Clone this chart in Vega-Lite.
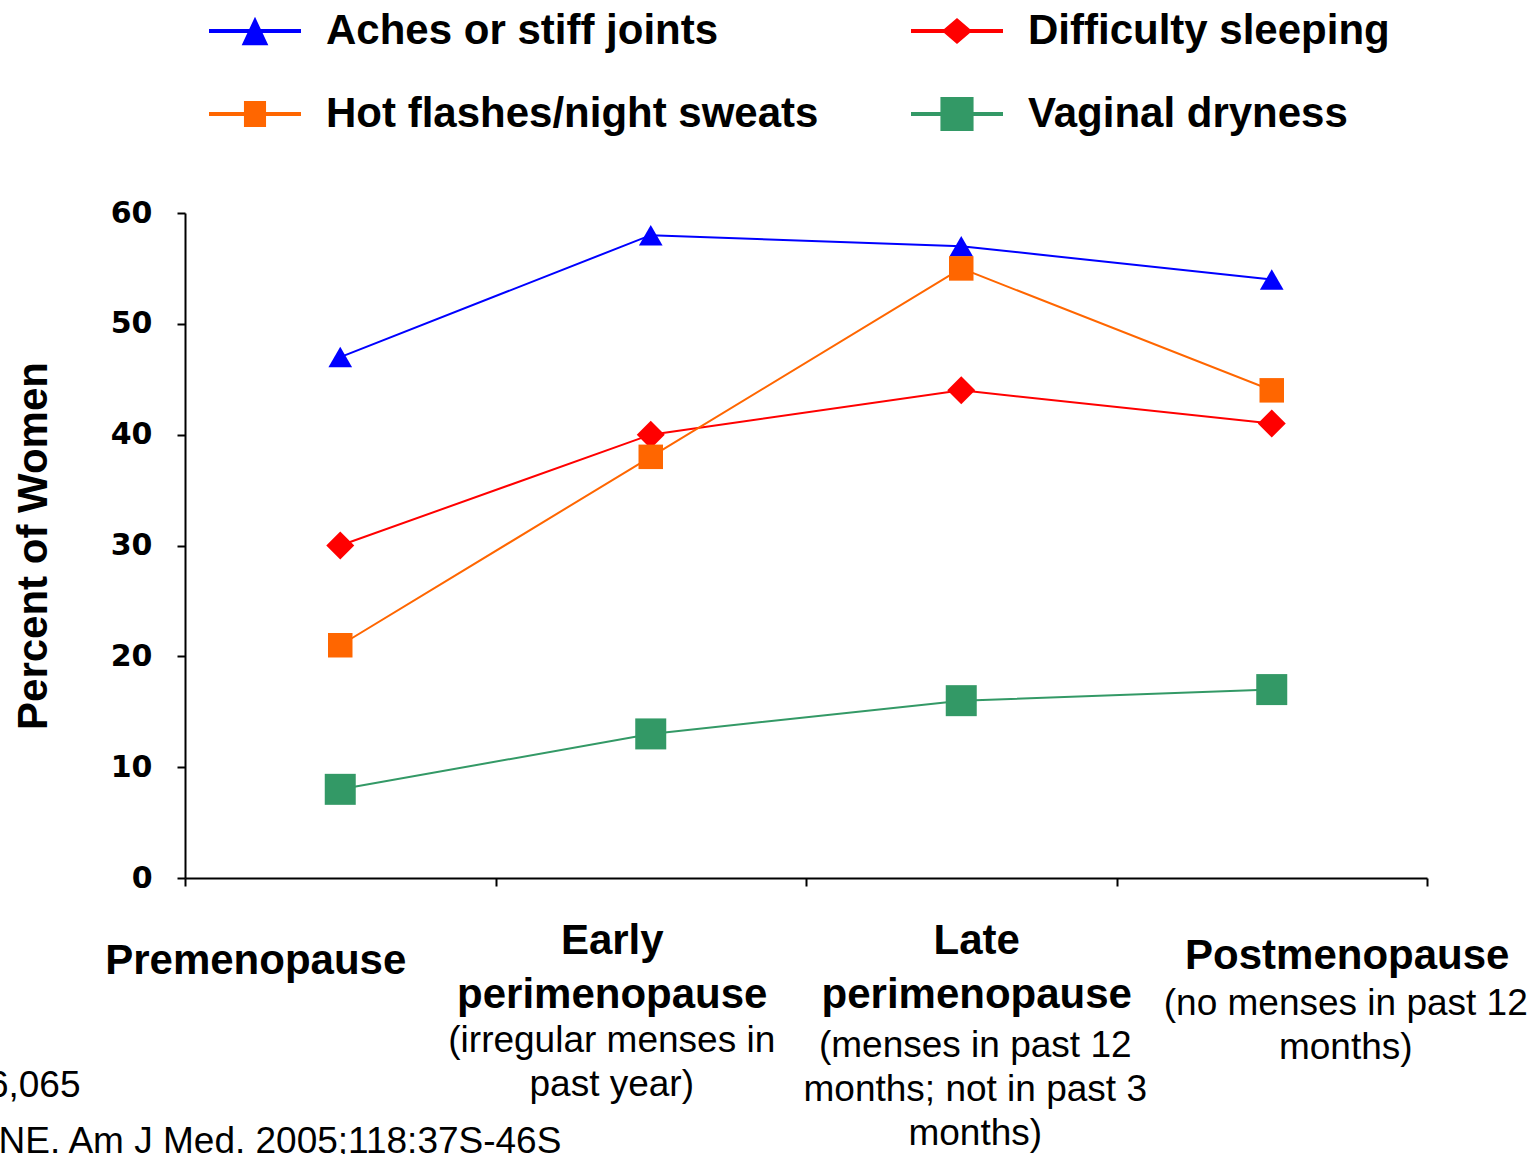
{
  "$schema": "https://vega.github.io/schema/vega-lite/v6.json",
  "width": 1242,
  "height": 665,
  "autosize": {"type": "none"},
  "padding": {"left": 185, "top": 213, "right": 109, "bottom": 276},
  "background": "white",
  "config": {"view": {"stroke": null}, "font": "Liberation Sans"},
  "title": {
    "text": ["N=16,065", "Avis NE. Am J Med. 2005;118:37S-46S"],
    "orient": "bottom",
    "anchor": "start",
    "frame": "group",
    "dx": -266,
    "offset": -83,
    "font": "Liberation Sans",
    "fontSize": 37,
    "fontWeight": "normal",
    "color": "black",
    "lineHeight": 56,
    "baseline": "top",
    "align": "left"
  },
  "data": {
    "values": [
      {"symptom": "Aches or stiff joints", "stage": "Premenopause", "percent": 47},
      {"symptom": "Aches or stiff joints", "stage": "Early perimenopause", "percent": 58},
      {"symptom": "Aches or stiff joints", "stage": "Late perimenopause", "percent": 57},
      {"symptom": "Aches or stiff joints", "stage": "Postmenopause", "percent": 54},
      {"symptom": "Difficulty sleeping", "stage": "Premenopause", "percent": 30},
      {"symptom": "Difficulty sleeping", "stage": "Early perimenopause", "percent": 40},
      {"symptom": "Difficulty sleeping", "stage": "Late perimenopause", "percent": 44},
      {"symptom": "Difficulty sleeping", "stage": "Postmenopause", "percent": 41},
      {"symptom": "Hot flashes/night sweats", "stage": "Premenopause", "percent": 21},
      {"symptom": "Hot flashes/night sweats", "stage": "Early perimenopause", "percent": 38},
      {"symptom": "Hot flashes/night sweats", "stage": "Late perimenopause", "percent": 55},
      {"symptom": "Hot flashes/night sweats", "stage": "Postmenopause", "percent": 44},
      {"symptom": "Vaginal dryness", "stage": "Premenopause", "percent": 8},
      {"symptom": "Vaginal dryness", "stage": "Early perimenopause", "percent": 13},
      {"symptom": "Vaginal dryness", "stage": "Late perimenopause", "percent": 16},
      {"symptom": "Vaginal dryness", "stage": "Postmenopause", "percent": 17}
    ]
  },
  "layer": [
    {
      "mark": {"type": "line", "strokeWidth": 2},
      "encoding": {
        "x": {
          "field": "stage", "type": "nominal", "bandPosition": 0.5,
          "scale": {"type": "band", "domain": ["Premenopause", "Early perimenopause", "Late perimenopause", "Postmenopause"], "paddingInner": 0, "paddingOuter": 0},
          "axis": {
            "orient": "bottom", "title": null, "domain": true, "domainColor": "black", "domainWidth": 2,
            "ticks": true, "tickBand": "extent", "tickColor": "black", "tickWidth": 2, "tickSize": 8,
            "labelFont": "Liberation Sans", "labelFontSize": 42, "labelFontWeight": "bold", "labelColor": "black",
            "labelLineHeight": 54, "labelBaseline": "middle", "labelAngle": 0,
            "labelPadding": {"condition": [{"test": "datum.value == 'Premenopause'", "value": 74}, {"test": "datum.value == 'Postmenopause'", "value": 69}], "value": 54},
            "labelOffset": {"condition": [{"test": "datum.value == 'Premenopause'", "value": -85}, {"test": "datum.value == 'Early perimenopause'", "value": -39}, {"test": "datum.value == 'Late perimenopause'", "value": 15}], "value": 75},
            "labelLimit": 1000, "labelOverlap": false, "labelFlush": false, "grid": false,
            "labelExpr": "datum.value == 'Early perimenopause' ? ['Early', 'perimenopause'] : datum.value == 'Late perimenopause' ? ['Late', 'perimenopause'] : datum.value"
          }
        },
        "y": {
          "field": "percent", "type": "quantitative",
          "scale": {"domain": [0, 60], "nice": false, "zero": true},
          "axis": {
            "title": "Percent of Women", "titleFont": "Liberation Sans", "titleFontSize": 42, "titleFontWeight": "bold",
            "titleColor": "black", "titlePadding": 55, "values": [0, 10, 20, 30, 40, 50, 60],
            "labelFont": "DejaVu Sans", "labelFontSize": 30, "labelFontWeight": "bold", "labelColor": "black",
            "labelPadding": 25, "tickSize": 8, "tickColor": "black", "tickWidth": 2,
            "domainColor": "black", "domainWidth": 2, "grid": false
          }
        },
        "color": {
          "field": "symptom", "type": "nominal",
          "scale": {"domain": ["Aches or stiff joints", "Difficulty sleeping", "Hot flashes/night sweats", "Vaginal dryness"], "range": ["#0000FF", "#FF0000", "#FF6600", "#339966"]}
        }
      }
    },
    {
      "mark": {"type": "point", "filled": true, "opacity": 1, "strokeWidth": 0},
      "encoding": {
        "x": {
          "field": "stage", "type": "nominal", "bandPosition": 0.5,
          "scale": {"type": "band", "domain": ["Premenopause", "Early perimenopause", "Late perimenopause", "Postmenopause"], "paddingInner": 0, "paddingOuter": 0},
          "axis": {
            "orient": "bottom", "title": null, "domain": false, "ticks": false, "tickSize": 0,
            "labelFont": "Liberation Sans", "labelFontSize": 37, "labelFontWeight": "normal", "labelColor": "black",
            "labelLineHeight": 44, "labelBaseline": "middle", "labelAngle": 0,
            "labelPadding": {"condition": [{"test": "datum.value == 'Late perimenopause'", "value": 167}, {"test": "datum.value == 'Postmenopause'", "value": 125}], "value": 162},
            "labelOffset": {"condition": [{"test": "datum.value == 'Early perimenopause'", "value": -39}, {"test": "datum.value == 'Late perimenopause'", "value": 14}], "value": 74},
            "labelLimit": 1000, "labelOverlap": false, "labelFlush": false, "grid": false,
            "labelExpr": "datum.value == 'Early perimenopause' ? ['(irregular menses in', 'past year)'] : datum.value == 'Late perimenopause' ? ['(menses in past 12', 'months; not in past 3', 'months)'] : datum.value == 'Postmenopause' ? ['(no menses in past 12', 'months)'] : ''"
          }
        },
        "y": {
          "field": "percent", "type": "quantitative",
          "scale": {"domain": [0, 60], "nice": false, "zero": true},
          "axis": {
            "title": "Percent of Women", "titleFont": "Liberation Sans", "titleFontSize": 42, "titleFontWeight": "bold",
            "titleColor": "black", "titlePadding": 55, "values": [0, 10, 20, 30, 40, 50, 60],
            "labelFont": "DejaVu Sans", "labelFontSize": 30, "labelFontWeight": "bold", "labelColor": "black",
            "labelPadding": 25, "tickSize": 8, "tickColor": "black", "tickWidth": 2,
            "domainColor": "black", "domainWidth": 2, "grid": false
          }
        },
        "color": {
          "field": "symptom", "type": "nominal",
          "scale": {"domain": ["Aches or stiff joints", "Difficulty sleeping", "Hot flashes/night sweats", "Vaginal dryness"], "range": ["#0000FF", "#FF0000", "#FF6600", "#339966"]}
        },
        "shape": {
          "condition": [
            {"test": "datum.symptom === 'Aches or stiff joints'", "value": "triangle-up"},
            {"test": "datum.symptom === 'Difficulty sleeping'", "value": "diamond"}
          ],
          "value": "square"
        },
        "size": {
          "condition": [
            {"test": "datum.symptom === 'Vaginal dryness'", "value": 961},
            {"test": "datum.symptom === 'Difficulty sleeping'", "value": 784},
            {"test": "datum.symptom === 'Aches or stiff joints'", "value": 560}
          ],
          "value": 600
        }
      }
    },
    {
      "transform": [{"filter": "false"}],
      "mark": {"type": "point", "filled": true, "opacity": 1, "strokeWidth": 0},
      "encoding": {
        "x": {"field": "stage", "type": "nominal", "bandPosition": 0.5, "axis": null},
        "y": {"field": "percent", "type": "quantitative"},
        "color": {
          "field": "symptom", "type": "nominal",
          "scale": {"domain": ["Aches or stiff joints", "Difficulty sleeping", "Hot flashes/night sweats", "Vaginal dryness"], "range": ["#0000FF", "#FF0000", "#FF6600", "#339966"]},
          "legend": {
            "title": null, "orient": "none", "legendX": 24, "legendY": -228, "columns": 2, "direction": "horizontal",
            "columnPadding": 92, "rowPadding": 16, "padding": 0,
            "labelFont": "Liberation Sans", "labelFontSize": 42, "labelFontWeight": "bold", "labelColor": "black",
            "labelLimit": 1000, "labelOffset": 25, "symbolSize": 8464, "symbolOpacity": 1, "symbolStrokeWidth": 0
          }
        },
        "shape": {
          "field": "symptom", "type": "nominal",
          "scale": {
            "domain": ["Aches or stiff joints", "Difficulty sleeping", "Hot flashes/night sweats", "Vaginal dryness"],
            "range": [
              "M-1,-0.045H1V0.045H-1Z M0,-0.31L0.29,0.31H-0.29Z",
              "M-1,-0.045H1V0.045H-1Z M0,-0.28L0.33,0L0,0.28L-0.33,0Z",
              "M-1,-0.045H1V0.045H-1Z M-0.24,-0.28H0.24V0.28H-0.24Z",
              "M-1,-0.045H1V0.045H-1Z M-0.36,-0.37H0.36V0.37H-0.36Z"
            ]
          },
          "legend": {
            "title": null, "orient": "none", "legendX": 24, "legendY": -228, "columns": 2, "direction": "horizontal",
            "columnPadding": 92, "rowPadding": 16, "padding": 0,
            "labelFont": "Liberation Sans", "labelFontSize": 42, "labelFontWeight": "bold", "labelColor": "black",
            "labelLimit": 1000, "labelOffset": 25, "symbolSize": 8464, "symbolOpacity": 1, "symbolStrokeWidth": 0
          }
        }
      }
    }
  ],
  "resolve": {"axis": {"x": "independent"}}
}
